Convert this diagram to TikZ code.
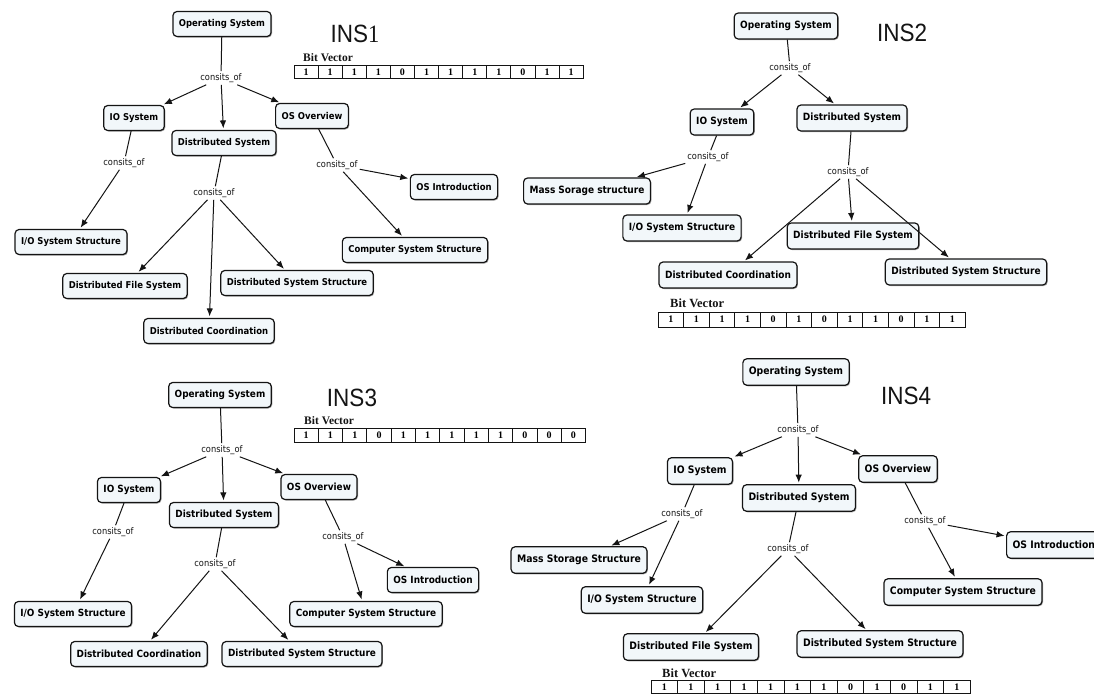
\documentclass[tikz,border=0pt]{standalone}
\usepackage{fontspec}
\usetikzlibrary{arrows.meta,shadows}
\newfontfamily\boxfont{DejaVu Sans Condensed}
\newfontfamily\titlefont{Liberation Sans}
\newfontfamily\titleserif{Liberation Serif}
\newfontfamily\serifbold{Liberation Serif}[UprightFont=*,BoldFont=* Bold]
\definecolor{boxfill}{RGB}{242,247,250}
\definecolor{ink}{RGB}{20,20,20}
% one row of bit cells: name, left x, centre y, cell width, cell height, bits
\newcommand\drawbits[6]{%
  \foreach \b [count=\i] in {#6}
    \node[bit, minimum width=#4pt, minimum height=#5pt] (#1-\i) at ({#2+(\i-0.5)*#4}, #3) {\b};%
}
\begin{document}
\begin{tikzpicture}[x=1pt,y=-1pt,
  box/.style={draw=ink, line width=1.2pt, rounded corners=4pt, fill=boxfill,
    inner xsep=6pt, inner ysep=0pt, minimum height=25pt,
    font=\boxfont\bfseries\fontsize{9.4}{10}\selectfont,
    drop shadow={shadow xshift=1pt, shadow yshift=-1pt, fill=black!60, opacity=0.6}},
  rel/.style={font=\boxfont\fontsize{9.2}{10}\selectfont, inner sep=2pt, text=ink},
  link/.style={draw=ink, line width=1pt},
  arr/.style={link, -{Latex[length=8pt,width=6.5pt]}, shorten >=1.5pt},
  title/.style={font=\titlefont\fontsize{25}{25}\selectfont, inner sep=0pt, text=ink},
  bvlabel/.style={font=\serifbold\bfseries\fontsize{11.5}{12}\selectfont, inner sep=0pt, anchor=base west, text=ink},
  bit/.style={draw=ink, line width=0.9pt, inner sep=0pt, font=\serifbold\bfseries\fontsize{10}{10}\selectfont},
]
\useasboundingbox (0,0) rectangle (1094,694);
\fill[white] (0,0) rectangle (1094,694);

% ---------------- INS1 ----------------
\node[title] (t1) at (355,34) {\scalebox{0.9}[1]{INS{\titleserif 1}}};
\node[bvlabel] (bv1) at (303,61.5) {Bit Vector};
\drawbits{v1}{294}{72}{24.1}{12.5}{1,1,1,1,0,1,1,1,1,0,1,1}
\node[box] (a-os) at (222,24) {Operating System};
\node[rel] (a-r0) at (221,78) {consits\_of};
\node[box] (a-io) at (134,118) {IO System};
\node[box] (a-ds) at (224,143) {Distributed System};
\node[box] (a-ov) at (312,116) {OS Overview};
\node[rel] (a-r1) at (124,163) {consits\_of};
\node[box] (a-ios) at (71,242) {I/O System Structure};
\node[rel] (a-r2) at (214,193) {consits\_of};
\node[box] (a-dfs) at (125,286) {Distributed File System};
\node[box] (a-dss) at (297,283) {Distributed System Structure};
\node[box] (a-dc) at (209,331) {Distributed Coordination};
\node[rel] (a-r3) at (337,165) {consits\_of};
\node[box] (a-oi) at (454,187) {OS Introduction};
\node[box] (a-css) at (415,250) {Computer System Structure};
\draw[link] (a-os) -- (a-r0);
\draw[arr] (a-r0) -- (a-io);
\draw[arr] (a-r0) -- (a-ds);
\draw[arr] (a-r0) -- (a-ov);
\draw[link] (a-io) -- (a-r1);
\draw[arr] (a-r1) -- (a-ios);
\draw[link] (a-ds) -- (a-r2);
\draw[arr] (a-r2) -- (a-dfs);
\draw[arr] (a-r2) -- (a-dc);
\draw[arr] (a-r2) -- (a-dss);
\draw[link] (a-ov) -- (a-r3);
\draw[arr] (a-r3) -- (a-oi);
\draw[arr] (a-r3) -- (a-css);

% ---------------- INS2 ----------------
\begin{scope}[box/.append style={font=\boxfont\bfseries\fontsize{10}{10}\selectfont, minimum height=26pt}]
\node[title] (t2) at (902,33) {\scalebox{0.9}[1]{INS2}};
\node[bvlabel, font=\serifbold\bfseries\fontsize{12.5}{13}\selectfont] (bv2) at (670,307) {Bit Vector};
\drawbits{v2}{658}{319.5}{25.6}{15}{1,1,1,1,0,1,0,1,1,0,1,1}
\node[box] (b-os) at (786,26) {Operating System};
\node[rel] (b-r0) at (790,68) {consits\_of};
\node[box] (b-io) at (722,122) {IO System};
\node[box] (b-ds) at (852,118) {Distributed System};
\node[rel] (b-r1) at (708,157) {consits\_of};
\node[box] (b-ms) at (587,191) {Mass Sorage structure};
\node[box] (b-ios) at (682,228) {I/O System Structure};
\node[rel] (b-r2) at (848,172) {consits\_of};
\node[box] (b-dfs) at (853,236) {Distributed File System};
\node[box] (b-dc) at (728,275) {Distributed Coordination};
\node[box] (b-dss) at (966,272) {Distributed System Structure};
\draw[link] (b-os) -- (b-r0);
\draw[arr] (b-r0) -- (b-io);
\draw[arr] (b-r0) -- (b-ds);
\draw[link] (b-io) -- (b-r1);
\draw[arr] (b-r1) -- (b-ms);
\draw[arr] (b-r1) -- (b-ios);
\draw[link] (b-ds) -- (b-r2);
\draw[arr] (b-r2) -- (b-dc);
\draw[arr] (b-r2) -- (b-dfs);
\draw[arr] (b-r2) -- (b-dss);
\end{scope}

% ---------------- INS3 ----------------
\begin{scope}[box/.append style={font=\boxfont\bfseries\fontsize{9.9}{10}\selectfont, minimum height=25pt}]
\node[title] (t3) at (352,398) {\scalebox{0.9}[1]{INS3}};
\node[bvlabel] (bv3) at (304,424.5) {Bit Vector};
\drawbits{v3}{294}{435.5}{24.3}{14}{1,1,1,0,1,1,1,1,1,0,0,0}
\node[box] (c-os) at (220,395) {Operating System};
\node[rel] (c-r0) at (222,450) {consits\_of};
\node[box] (c-io) at (129,490) {IO System};
\node[box] (c-ds) at (224,515) {Distributed System};
\node[box] (c-ov) at (319,487) {OS Overview};
\node[rel] (c-r1) at (113,532) {consits\_of};
\node[box] (c-ios) at (73,614) {I/O System Structure};
\node[rel] (c-r2) at (215,564) {consits\_of};
\node[box] (c-dc) at (139,654) {Distributed Coordination};
\node[box] (c-dss) at (302,654) {Distributed System Structure};
\node[rel] (c-r3) at (343,537) {consits\_of};
\node[box] (c-oi) at (433,580) {OS Introduction};
\node[box] (c-css) at (366,614) {Computer System Structure};
\draw[link] (c-os) -- (c-r0);
\draw[arr] (c-r0) -- (c-io);
\draw[arr] (c-r0) -- (c-ds);
\draw[arr] (c-r0) -- (c-ov);
\draw[link] (c-io) -- (c-r1);
\draw[arr] (c-r1) -- (c-ios);
\draw[link] (c-ds) -- (c-r2);
\draw[arr] (c-r2) -- (c-dc);
\draw[arr] (c-r2) -- (c-dss);
\draw[link] (c-ov) -- (c-r3);
\draw[arr] (c-r3) -- (c-oi);
\draw[arr] (c-r3) -- (c-css);
\end{scope}

% ---------------- INS4 ----------------
\begin{scope}[box/.append style={font=\boxfont\bfseries\fontsize{10.3}{10}\selectfont, minimum height=26.5pt}]
\node[title] (t4) at (906,396) {\scalebox{0.9}[1]{INS4}};
\node[bvlabel, font=\serifbold\bfseries\fontsize{12.5}{13}\selectfont] (bv4) at (662,677) {Bit Vector};
\drawbits{v4}{651}{687}{26.6}{13}{1,1,1,1,1,1,1,0,1,0,1,1}
\node[box] (d-os) at (796,372) {Operating System};
\node[rel] (d-r0) at (798,430) {consits\_of};
\node[box] (d-io) at (700,471) {IO System};
\node[box] (d-ds) at (799,498) {Distributed System};
\node[box] (d-ov) at (898,469) {OS Overview};
\node[rel] (d-r1) at (682,514) {consits\_of};
\node[box] (d-ms) at (579,560) {Mass Storage Structure};
\node[box] (d-ios) at (642,600) {I/O System Structure};
\node[rel] (d-r2) at (788,549) {consits\_of};
\node[box] (d-dfs) at (691,647) {Distributed File System};
\node[box] (d-dss) at (880,644) {Distributed System Structure};
\node[rel] (d-r3) at (925,521) {consits\_of};
\node[box, anchor=west] (d-oi) at (1006,545) {OS Introduction};
\node[box] (d-css) at (963,592) {Computer System Structure};
\draw[link] (d-os) -- (d-r0);
\draw[arr] (d-r0) -- (d-io);
\draw[arr] (d-r0) -- (d-ds);
\draw[arr] (d-r0) -- (d-ov);
\draw[link] (d-io) -- (d-r1);
\draw[arr] (d-r1) -- (d-ms);
\draw[arr] (d-r1) -- (d-ios);
\draw[link] (d-ds) -- (d-r2);
\draw[arr] (d-r2) -- (d-dfs);
\draw[arr] (d-r2) -- (d-dss);
\draw[link] (d-ov) -- (d-r3);
\draw[arr] (d-r3) -- (d-oi);
\draw[arr] (d-r3) -- (d-css);
\end{scope}
\end{tikzpicture}
\end{document}
